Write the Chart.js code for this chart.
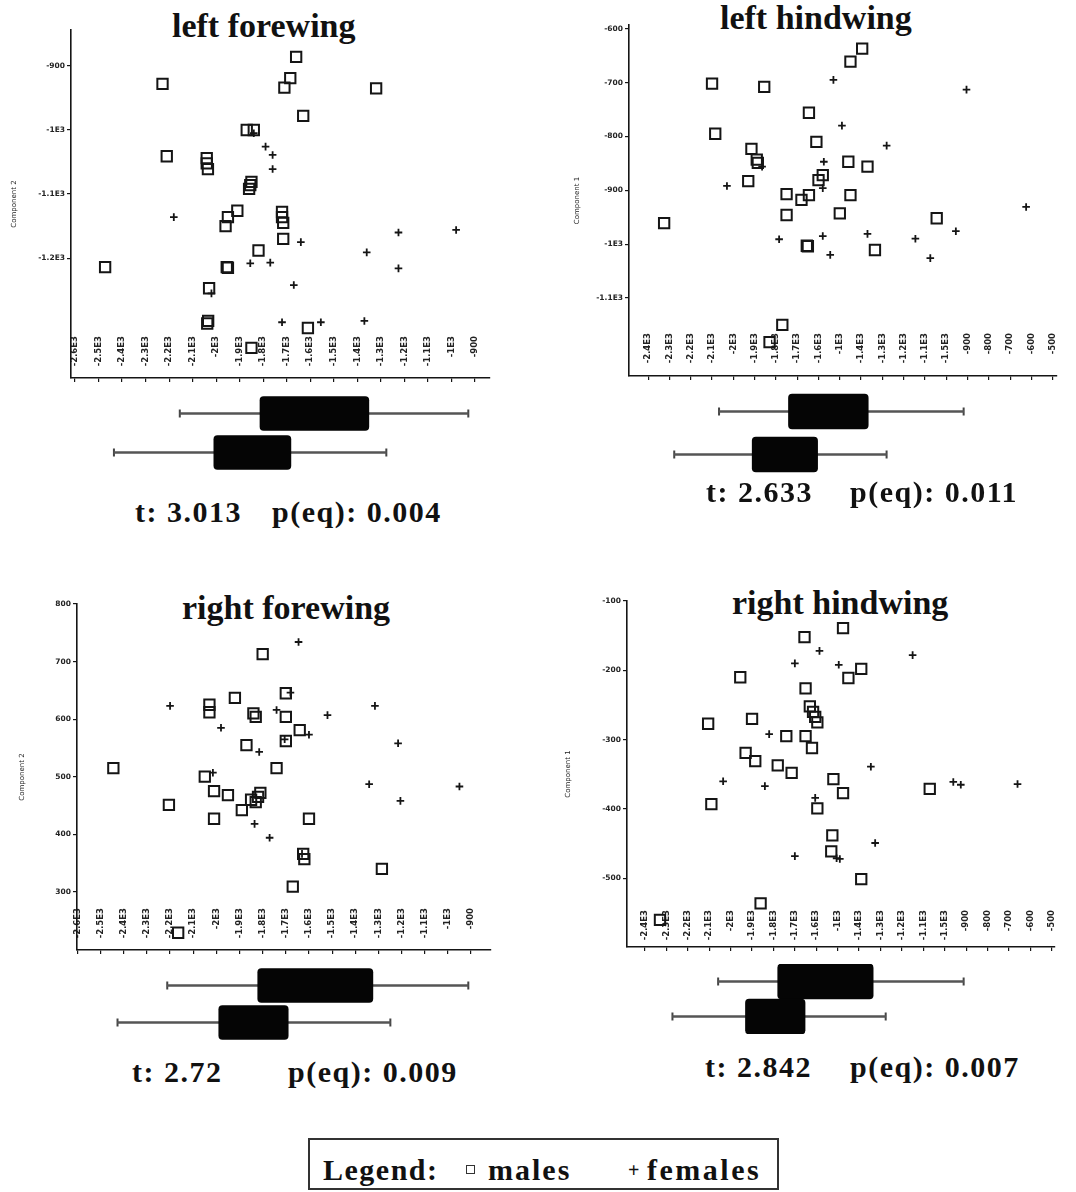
<!DOCTYPE html>
<html>
<head>
<meta charset="utf-8">
<script src="https://cdn.jsdelivr.net/npm/chart.js@4.4.0/dist/chart.umd.min.js"></script>
<style>
body { margin: 0; background: #fff; width: 1076px; height: 1192px; position: relative; overflow: hidden; font-family: "Liberation Serif", serif; color: #111; }
canvas { position: absolute; }
.ttl { position: absolute; font-weight: bold; font-size: 34px; line-height: 1; white-space: nowrap; }
.stat { position: absolute; font-weight: bold; font-size: 30px; line-height: 1; letter-spacing: 1.5px; white-space: nowrap; }
.legend { position: absolute; left: 308px; top: 1138px; width: 471px; height: 52px; border: 2px solid #333; box-sizing: border-box; }
.legend span { position: absolute; font-weight: bold; font-size: 30px; line-height: 1; top: 15px; white-space: nowrap; }
.sq { position: absolute; width: 7px; height: 7px; border: 1.5px solid #333; left: 156px; top: 25px; }
</style>
</head>
<body>

<div class="ttl" style="left:172px; top:9px">left forewing</div>
<div class="ttl" style="left:720px; top:1px">left hindwing</div>
<div class="ttl" style="left:182px; top:591px">right forewing</div>
<div class="ttl" style="left:732px; top:586px">right hindwing</div>

<canvas id="lf" width="500" height="392" style="left:0px; top:0px"></canvas>
<canvas id="lh" width="530" height="390" style="left:540px; top:0px"></canvas>
<canvas id="rf" width="500" height="384" style="left:0px; top:580px"></canvas>
<canvas id="rh" width="530" height="381" style="left:540px; top:580px"></canvas>

<canvas id="lfBox" width="460" height="90" style="left:60px; top:388px"></canvas>
<canvas id="lhBox" width="460" height="98" style="left:610px; top:384px"></canvas>
<canvas id="rfBox" width="460" height="86" style="left:60px; top:961px"></canvas>
<canvas id="rhBox" width="460" height="82" style="left:610px; top:958px"></canvas>

<div class="stat" style="left:135px; top:497px">t: 3.013</div>
<div class="stat" style="left:272px; top:497px">p(eq): 0.004</div>
<div class="stat" style="left:706px; top:477px">t: 2.633</div>
<div class="stat" style="left:850px; top:477px">p(eq): 0.011</div>
<div class="stat" style="left:132px; top:1057px">t: 2.72</div>
<div class="stat" style="left:288px; top:1057px">p(eq): 0.009</div>
<div class="stat" style="left:705px; top:1052px">t: 2.842</div>
<div class="stat" style="left:850px; top:1052px">p(eq): 0.007</div>

<div class="legend">
  <span style="left:13px; letter-spacing:1.5px">Legend:</span>
  <div class="sq"></div>
  <span style="left:178px; letter-spacing:2px">males</span>
  <span style="left:318px; font-size:20px; top:20px">+</span>
  <span style="left:337px; letter-spacing:2.5px">females</span>
</div>

<script>
// ---- scatter data: [component 1 position, component 2 / component 1 score]
const lfMales = [[1.28,-1214],[3.72,-928],[3.9,-1041],[5.6,-1044],[5.6,-1052],[5.65,-1061],[5.7,-1247],[5.66,-1298],[5.62,-1302],
  [6.4,-1150],[6.5,-1136],[6.9,-1126],[6.45,-1214],[6.5,-1215],[7.3,-1000],[7.6,-1000],[7.4,-1092],[7.45,-1086],[7.5,-1081],
  [7.8,-1188],[7.5,-1340],[9.4,-886],[9.15,-919],[8.9,-934],[9.7,-978],[8.8,-1128],[8.8,-1136],[8.85,-1145],[8.85,-1170],
  [9.9,-1309],[12.8,-935]];
const lfFemales = [[4.2,-1136],[5.8,-1255],[7.45,-1208],[7.6,-1005],[8.1,-1026],[8.4,-1039],[8.4,-1061],[8.3,-1207],[9.6,-1175],
  [9.3,-1242],[8.8,-1300],[10.45,-1300],[12.4,-1191],[12.3,-1298],[13.75,-1160],[13.75,-1216],[16.2,-1156]];

const lhMales = [[0.75,-961],[3.0,-702],[3.15,-795],[5.45,-708],[4.85,-823],[5.1,-843],[5.15,-849],[4.7,-883],[6.5,-907],
  [6.5,-946],[7.2,-918],[7.55,-909],[7.55,-756],[7.9,-810],[8.0,-881],[8.2,-872],[7.45,-1003],[7.5,-1004],[9.5,-661],
  [10.05,-637],[9.4,-847],[9.5,-909],[9.0,-943],[10.3,-856],[10.65,-1011],[13.55,-952],[6.3,-1150],[5.7,-1182]];
const lhFemales = [[3.7,-892],[5.35,-856],[6.15,-991],[8.7,-695],[9.1,-780],[8.25,-847],[8.2,-896],[8.2,-985],[8.55,-1020],
  [11.2,-817],[10.3,-981],[12.55,-990],[13.25,-1026],[14.45,-976],[14.95,-713],[17.75,-931]];

const rfMales = [[1.55,515],[3.95,451],[5.7,625],[5.7,612],[5.5,500],[5.9,475],[6.5,468],[5.9,427],[6.8,637],[7.3,555],
  [7.1,442],[7.6,610],[7.7,604],[7.5,460],[7.7,456],[7.8,465],[7.9,472],[8.0,713],[8.6,515],[9.0,645],[9.0,604],[9.0,562],
  [9.6,581],[10.0,427],[9.75,366],[9.8,357],[9.3,309],[13.15,340],[4.35,229]];
const rfFemales = [[4.0,623],[6.2,585],[5.85,507],[7.85,543],[7.65,418],[8.3,394],[8.6,616],[9.2,646],[8.95,565],[9.55,734],
  [10.0,573],[9.7,366],[10.8,607],[12.85,623],[12.6,487],[13.85,558],[13.95,458],[16.5,483]];

const rhMales = [[2.95,-277],[3.1,-393],[4.45,-210],[5.0,-270],[4.7,-319],[5.15,-331],[6.2,-337],[6.6,-295],[6.85,-348],
  [7.45,-152],[7.5,-226],[7.5,-295],[7.8,-312],[7.7,-252],[7.85,-260],[7.95,-267],[8.05,-275],[8.05,-399],[8.75,-438],
  [8.7,-461],[8.8,-357],[9.25,-377],[9.25,-139],[9.5,-211],[10.1,-198],[10.1,-501],[13.3,-371],[5.4,-536],[0.7,-560]];
const rhFemales = [[3.65,-360],[5.6,-367],[5.8,-292],[7.0,-190],[8.15,-172],[9.05,-192],[7.95,-384],[7.0,-468],[8.95,-471],
  [9.1,-472],[10.55,-339],[10.75,-449],[12.5,-178],[14.4,-361],[14.75,-365],[17.4,-364]];

// ---- axis ticks
const lfYTicks = [-900, -1000, -1100, -1200];
const lfYLabels = ["-900", "-1E3", "-1.1E3", "-1.2E3"];
const lhYTicks = [-600, -700, -800, -900, -1000, -1100];
const lhYLabels = ["-600", "-700", "-800", "-900", "-1E3", "-1.1E3"];
const rfYTicks = [800, 700, 600, 500, 400, 300];
const rfYLabels = ["800", "700", "600", "500", "400", "300"];
const rhYTicks = [-100, -200, -300, -400, -500];
const rhYLabels = ["-100", "-200", "-300", "-400", "-500"];

const lfXLabels = ["-2.6E3","-2.5E3","-2.4E3","-2.3E3","-2.2E3","-2.1E3","-2E3","-1.9E3","-1.8E3",
  "-1.7E3","-1.6E3","-1.5E3","-1.4E3","-1.3E3","-1.2E3","-1.1E3","-1E3","-900"];
const lhXLabels = ["-2.4E3","-2.3E3","-2.2E3","-2.1E3","-2E3","-1.9E3","-1.8E3","-1.7E3","-1.6E3","-1E3",
  "-1.4E3","-1.3E3","-1.2E3","-1.1E3","-1.5E3","-900","-800","-700","-600","-500"];
const rfXLabels = ["-2.6E3","-2.5E3","-2.4E3","-2.3E3","-2.2E3","-2.1E3","-2E3","-1.9E3","-1.8E3",
  "-1.7E3","-1.6E3","-1.5E3","-1.4E3","-1.3E3","-1.2E3","-1.1E3","-1E3","-900"];
const rhXLabels = ["-2.4E3","-2.3E3","-2.2E3","-2.1E3","-2E3","-1.9E3","-1.8E3","-1.7E3","-1.6E3","-1E3",
  "-1.4E3","-1.3E3","-1.2E3","-1.1E3","-1.5E3","-900","-800","-700","-600","-500"];

// ---- box plots: [min, q1, q3, max] on a 0-100 score scale
const boxLabels = ["males", "females"];
const lfBoxMales = [25.4, 43.3, 67.6, 89.8];
const lfBoxFemales = [10.7, 33.0, 50.2, 71.5];
const lhBoxMales = [23.0, 38.5, 56.3, 77.6];
const lhBoxFemales = [13.0, 30.4, 45.0, 60.4];
const rfBoxMales = [22.6, 42.8, 68.5, 89.8];
const rfBoxFemales = [11.5, 34.1, 49.6, 72.4];
const rhBoxMales = [22.8, 36.1, 57.4, 77.6];
const rhBoxFemales = [12.6, 28.9, 42.2, 60.2];

const INK = '#151515';
const XFONT = 8.5;

function scatterPanel(id, males, females, xLabels, yTicks, yLabels, yTitle, lay) {
  const toPts = arr => arr.map(p => ({x: p[0], y: p[1]}));
  new Chart(document.getElementById(id), {
    type: 'scatter',
    data: {
      datasets: [
        { label: 'males', data: toPts(males), pointStyle: 'rect', pointRadius: 7.3,
          borderColor: INK, borderWidth: 2, backgroundColor: 'rgba(0,0,0,0)' },
        { label: 'females', data: toPts(females), pointStyle: 'cross', pointRadius: 3.8,
          borderColor: INK, borderWidth: 1.8 }
      ]
    },
    options: {
      responsive: false,
      animation: false,
      layout: { padding: { top: lay.padTop, right: lay.padRight, left: 0, bottom: 0 } },
      plugins: { legend: { display: false }, tooltip: { enabled: false } },
      scales: {
        x: {
          type: 'linear', min: lay.xMin, max: lay.xMax,
          afterBuildTicks: s => { s.ticks = xLabels.map((_, i) => ({ value: i })); },
          afterFit: s => { s.height = lay.xH; s.paddingLeft = 0; s.paddingRight = 0; },
          border: { display: true, color: INK, width: 1.6 },
          grid: { drawOnChartArea: false, drawTicks: true, tickLength: 4, color: INK, lineWidth: 1.2 },
          ticks: {
            autoSkip: false, minRotation: 90, maxRotation: 90, padding: lay.labelPad,
            mirror: true, labelOffset: XFONT * 1.2,
            color: '#222', font: { family: 'DejaVu Sans', size: XFONT, weight: 'bold' },
            callback: (v, i) => xLabels[i]
          }
        },
        y: {
          type: 'linear', min: lay.yMin, max: lay.yMax,
          afterBuildTicks: s => { s.ticks = yTicks.map(v => ({ value: v })); },
          afterFit: s => { s.width = lay.axisW; },
          border: { display: true, color: INK, width: 1.6 },
          grid: { drawOnChartArea: false, drawTicks: true, tickLength: 4, color: INK, lineWidth: 1.2 },
          ticks: {
            padding: 2, color: '#222', font: { family: 'DejaVu Sans', size: 7.5, weight: 'bold' },
            callback: (v, i) => yLabels[i]
          },
          title: {
            display: true, text: yTitle, color: '#222',
            font: { family: 'DejaVu Sans', size: 7 }, padding: { top: lay.titlePad, bottom: 0 }
          }
        }
      }
    }
  });
}

function boxPanel(id, males, females, thick) {
  const caps = [
    { x: males[0], y: boxLabels[0] }, { x: males[3], y: boxLabels[0] },
    { x: females[0], y: boxLabels[1] }, { x: females[3], y: boxLabels[1] }
  ];
  new Chart(document.getElementById(id), {
    type: 'bar',
    data: {
      labels: boxLabels,
      datasets: [
        { data: [[males[1], males[2]], [females[1], females[2]]], backgroundColor: '#050505',
          barThickness: thick, borderRadius: 4, borderSkipped: false, grouped: false },
        { data: [[males[0], males[3]], [females[0], females[3]]], backgroundColor: '#555',
          barThickness: 2, grouped: false },
        { type: 'line', data: caps, showLine: false, pointStyle: 'line', rotation: 90,
          pointRadius: 4, borderColor: '#444', borderWidth: 2 }
      ]
    },
    options: {
      indexAxis: 'y',
      responsive: false,
      animation: false,
      layout: { padding: 0 },
      plugins: { legend: { display: false }, tooltip: { enabled: false } },
      scales: {
        x: { display: false, min: 0, max: 100 },
        y: { display: false }
      }
    }
  });
}

scatterPanel('lf', lfMales, lfFemales, lfXLabels, lfYTicks, lfYLabels, 'Component 2',
  { padTop: 30, padRight: 10, axisW: 71, xH: 14, xMin: -0.17, xMax: 17.64, yMin: -1387, yMax: -844, labelPad: 42, titlePad: 10 });
scatterPanel('lh', lhMales, lhFemales, lhXLabels, lhYTicks, lhYLabels, 'Component 1',
  { padTop: 25, padRight: 13, axisW: 89, xH: 14, xMin: -0.9, xMax: 19.2, yMin: -1245, yMax: -593, labelPad: 43, titlePad: 33 });
scatterPanel('rf', rfMales, rfFemales, rfXLabels, rfYTicks, rfYLabels, 'Component 2',
  { padTop: 24, padRight: 7, axisW: 77, xH: 14, xMin: -0.02, xMax: 17.85, yMin: 199, yMax: 800, labelPad: 42, titlePad: 18 });
scatterPanel('rh', rhMales, rhFemales, rhXLabels, rhYTicks, rhYLabels, 'Component 1',
  { padTop: 21, padRight: 15, axisW: 87, xH: 14, xMin: -0.84, xMax: 19.15, yMin: -599, yMax: -100, labelPad: 37, titlePad: 24 });

boxPanel('lfBox', lfBoxMales, lfBoxFemales, 34);
boxPanel('lhBox', lhBoxMales, lhBoxFemales, 35);
boxPanel('rfBox', rfBoxMales, rfBoxFemales, 34);
boxPanel('rhBox', rhBoxMales, rhBoxFemales, 35);
</script>
</body>
</html>
